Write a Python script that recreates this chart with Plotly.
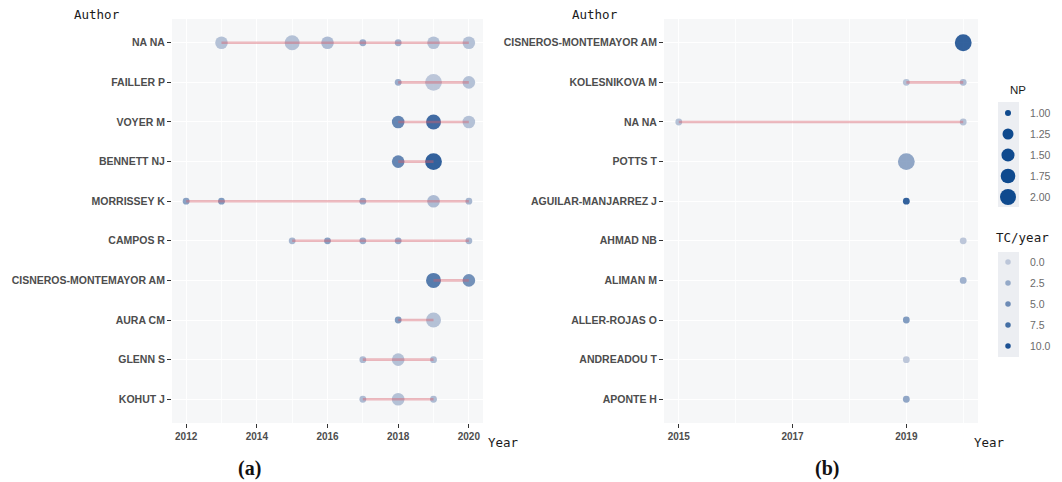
import plotly.graph_objects as go

# ---------------- data ----------------
# Panel (a): authors' production over time
a_authors = ["NA NA", "FAILLER P", "VOYER M", "BENNETT NJ", "MORRISSEY K",
             "CAMPOS R", "CISNEROS-MONTEMAYOR AM", "AURA CM", "GLENN S", "KOHUT J"]
a_author = (["NA NA"] * 7 + ["FAILLER P"] * 3 + ["VOYER M"] * 3 + ["BENNETT NJ"] * 2
            + ["MORRISSEY K"] * 5 + ["CAMPOS R"] * 5 + ["CISNEROS-MONTEMAYOR AM"] * 2
            + ["AURA CM"] * 2 + ["GLENN S"] * 3 + ["KOHUT J"] * 3)
a_year = [2013, 2015, 2016, 2017, 2018, 2019, 2020,
          2018, 2019, 2020,
          2018, 2019, 2020,
          2018, 2019,
          2012, 2013, 2017, 2019, 2020,
          2015, 2016, 2017, 2018, 2020,
          2019, 2020,
          2018, 2019,
          2017, 2018, 2019,
          2017, 2018, 2019]
a_np = [2, 3, 2, 1, 1, 2, 2,
        1, 4, 2,
        2, 3, 2,
        2, 4,
        1, 1, 1, 2, 1,
        1, 1, 1, 1, 1,
        3, 2,
        1, 3,
        1, 2, 1,
        1, 2, 1]
a_tc = [1.0, 1.0, 1.5, 3.0, 2.5, 1.0, 1.0,
        3.0, 0.5, 1.0,
        6.5, 9.0, 1.0,
        6.5, 10.0,
        4.0, 4.5, 3.0, 1.5, 2.0,
        2.0, 4.0, 3.0, 3.0, 2.0,
        7.5, 5.5,
        4.5, 1.0,
        1.5, 1.0, 1.5,
        1.5, 1.0, 1.5]

# Panel (b)
b_authors = ["CISNEROS-MONTEMAYOR AM", "KOLESNIKOVA M", "NA NA", "POTTS T",
             "AGUILAR-MANJARREZ J", "AHMAD NB", "ALIMAN M", "ALLER-ROJAS O",
             "ANDREADOU T", "APONTE H"]
b_author = ["CISNEROS-MONTEMAYOR AM", "KOLESNIKOVA M", "KOLESNIKOVA M", "NA NA", "NA NA",
            "POTTS T", "AGUILAR-MANJARREZ J", "AHMAD NB", "ALIMAN M", "ALLER-ROJAS O",
            "ANDREADOU T", "APONTE H"]
b_year = [2020, 2019, 2020, 2015, 2020, 2019, 2019, 2020, 2020, 2019, 2019, 2019]
b_np = [2, 1, 1, 1, 1, 2, 1, 1, 1, 1, 1, 1]
b_tc = [10.0, 1.0, 1.5, 1.0, 1.0, 3.5, 10.0, 0.5, 2.5, 4.5, 0.5, 3.5]

# legend breaks
np_breaks = [1.00, 1.25, 1.50, 1.75, 2.00]
tc_breaks = [0.0, 2.5, 5.0, 7.5, 10.0]

# ---------------- styling ----------------
W, H = 1062, 482
PANEL_BG = "#f6f7f8"
KEY_BG = "#eceef2"
BLUES = [[0, "#b7c1d6"], [1, "#063f88"]]
TC_MIN, TC_MAX = 0, 10
LINE_COL = "rgba(214,92,104,0.42)"
TICK_FONT = dict(family="Liberation Sans, Arial, sans-serif", size=10.5,
                 color="#4d4d4d", weight="bold")
MONO = "DejaVu Sans Mono, monospace"


def px(x):
    return x / W


def py(y):
    return 1 - y / H


def diam(v, lo, hi, dmin, dmax):
    # area-style size scale: diameter grows with sqrt of rescaled value
    return dmin + (dmax - dmin) * ((v - lo) / (hi - lo)) ** 0.5


def segments(authors, years):
    xs, ys = [], []
    for name in dict.fromkeys(authors):
        yrs = [yr for au, yr in zip(authors, years) if au == name]
        if len(yrs) > 1:
            xs += [min(yrs), max(yrs), None]
            ys += [name, name, None]
    return xs, ys


fig = go.Figure()


def add_panel(authors, years, nps, tcs, xa, ya, np_lo, np_hi):
    sizes = [diam(v, np_lo, np_hi, 6.8, 16.8) for v in nps]
    fig.add_trace(go.Scatter(
        x=years, y=authors, mode="markers", xaxis=xa, yaxis=ya,
        marker=dict(size=sizes, color=tcs, colorscale=BLUES, cmin=TC_MIN, cmax=TC_MAX,
                    opacity=0.82, line=dict(width=0)),
        showlegend=False, hoverinfo="skip"))
    lx, ly = segments(authors, years)
    fig.add_trace(go.Scatter(
        x=lx, y=ly, mode="lines", xaxis=xa, yaxis=ya,
        line=dict(color=LINE_COL, width=2.6), showlegend=False, hoverinfo="skip"))


add_panel(a_author, a_year, a_np, a_tc, "x", "y", 1, 4)
add_panel(b_author, b_year, b_np, b_tc, "x2", "y2", 1, 2)

# legend keys drawn on a pixel-unit overlay axis
KEY_X = 1008
np_key_y = [113, 134, 155, 176, 197]
tc_key_y = [262, 283, 304, 325, 346]
fig.add_trace(go.Scatter(
    x=[KEY_X] * len(np_breaks), y=np_key_y, mode="markers", xaxis="x3", yaxis="y3",
    marker=dict(size=[diam(v, 1, 2, 6.0, 16.0) for v in np_breaks], color="#0f4a8e",
                opacity=1, line=dict(width=0)),
    showlegend=False, hoverinfo="skip"))
fig.add_trace(go.Scatter(
    x=[KEY_X] * len(tc_breaks), y=tc_key_y, mode="markers", xaxis="x3", yaxis="y3",
    marker=dict(size=5.5, color=tc_breaks, colorscale=BLUES, cmin=TC_MIN, cmax=TC_MAX,
                opacity=0.9, line=dict(width=0)),
    showlegend=False, hoverinfo="skip"))

shapes = []
for xa, ya in (("x", "y"), ("x2", "y2")):
    shapes.append(dict(type="rect", xref=f"{xa} domain", yref=f"{ya} domain",
                       x0=0, x1=1, y0=0, y1=1, fillcolor=PANEL_BG,
                       line=dict(width=0), layer="below"))
for y0, y1 in ((102, 207), (252, 357)):
    shapes.append(dict(type="rect", xref="paper", yref="paper",
                       x0=px(998), x1=px(1019), y0=py(y1), y1=py(y0),
                       fillcolor=KEY_BG, line=dict(width=0), layer="below"))

annotations = []


def label(text, x, y, font, xanchor="left"):
    annotations.append(dict(text=text, x=px(x), y=py(y), xref="paper", yref="paper",
                            xanchor=xanchor, yanchor="middle", showarrow=False, font=font))


title_font = dict(family=MONO, size=12.5, color="#1a1a1a")
label("Author", 72, 14, title_font)
label("Author", 570, 14, title_font)
label("Year", 486, 442, title_font)
label("Year", 972, 442, title_font)
label("(a)", 250, 468, dict(family="Liberation Serif, Times New Roman, serif", size=20,
                            color="#111", weight="bold"), "center")
label("(b)", 827, 468, dict(family="Liberation Serif, Times New Roman, serif", size=20,
                            color="#111", weight="bold"), "center")
label("NP", 1008, 90, dict(family="Liberation Sans, Arial, sans-serif", size=11.5,
                           color="#1a1a1a"))
label("TC/year", 994, 237, title_font)
leg_font = dict(family="Liberation Sans, Arial, sans-serif", size=10.5, color="#6b6b6b")
for v, y in zip(np_breaks, np_key_y):
    label(f"{v:.2f}", 1028, y, leg_font)
for v, y in zip(tc_breaks, tc_key_y):
    label(f"{v:.1f}", 1028, y, leg_font)

PANEL_TOP, PANEL_BOTTOM = 19, 423
y_dom = [py(PANEL_BOTTOM), py(PANEL_TOP)]

common_x = dict(showgrid=True, gridcolor="white", gridwidth=1.3, zeroline=False,
                ticks="outside", ticklen=4, tickcolor="#333", tickwidth=1,
                tickfont=dict(family="Liberation Sans, Arial, sans-serif", size=10,
                              color="#4d4d4d", weight="bold"),
                showline=False, fixedrange=True)
common_y = dict(type="category", showgrid=True, gridcolor="white", gridwidth=1.3,
                zeroline=False, ticks="outside", ticklen=4, tickcolor="#333",
                tickwidth=1, tickfont=TICK_FONT, showline=False, fixedrange=True)

fig.update_layout(
    width=W, height=H, margin=dict(l=0, r=0, t=0, b=0),
    paper_bgcolor="white", plot_bgcolor="rgba(0,0,0,0)",
    xaxis=dict(domain=[px(172), px(483)], anchor="y", range=[2011.6, 2020.4],
               tickvals=[2012, 2014, 2016, 2018, 2020],
               minor=dict(tickvals=[2013, 2015, 2017, 2019], showgrid=True,
                          gridcolor="rgba(255,255,255,0.8)", gridwidth=0.7, ticks=""),
               **common_x),
    yaxis=dict(domain=y_dom, anchor="x", categoryorder="array", categoryarray=a_authors,
               range=[len(a_authors) - 0.4, -0.6], **common_y),
    xaxis2=dict(domain=[px(664), px(978)], anchor="y2", range=[2014.74, 2020.26],
                tickvals=[2015, 2017, 2019],
                minor=dict(tickvals=[2016, 2018, 2020], showgrid=True,
                           gridcolor="rgba(255,255,255,0.8)", gridwidth=0.7, ticks=""),
                **common_x),
    yaxis2=dict(domain=y_dom, anchor="x2", categoryorder="array", categoryarray=b_authors,
                range=[len(b_authors) - 0.4, -0.6], **common_y),
    xaxis3=dict(domain=[0, 1], range=[0, W], visible=False, fixedrange=True, anchor="y3"),
    yaxis3=dict(domain=[0, 1], range=[H, 0], visible=False, fixedrange=True, anchor="x3"),
    shapes=shapes, annotations=annotations,
)

fig.write_html("out.html")
